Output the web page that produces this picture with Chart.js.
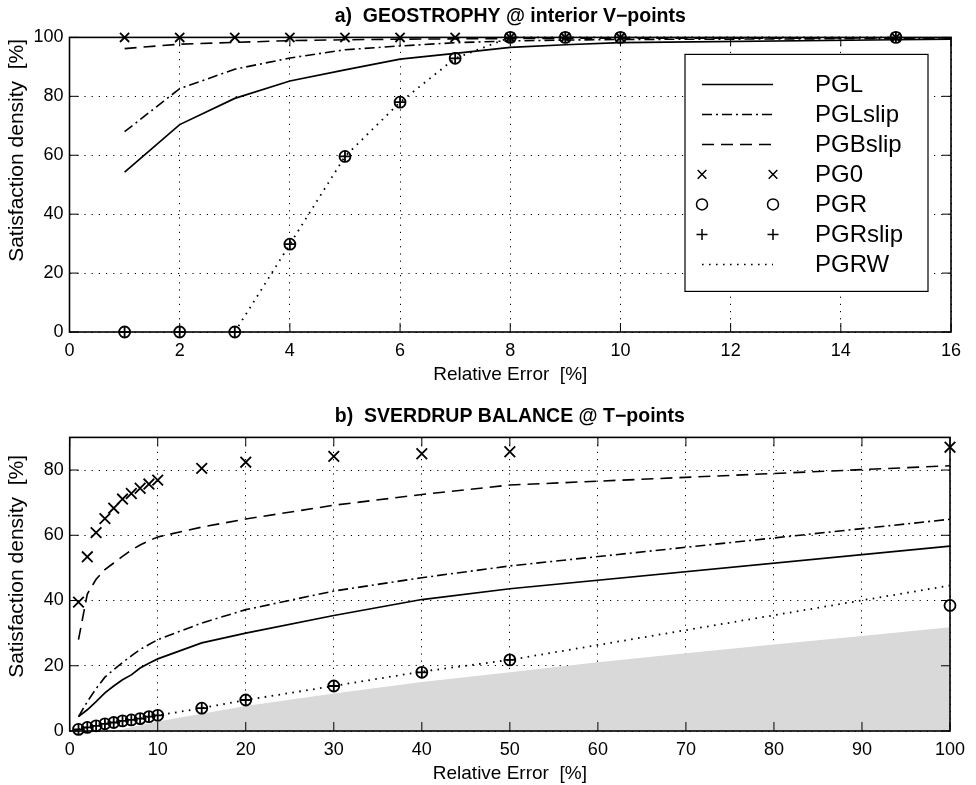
<!DOCTYPE html>
<html>
<head>
<meta charset="utf-8">
<script src="https://cdn.jsdelivr.net/npm/chart.js@4.4.0/dist/chart.umd.min.js"></script>
<style>
  html, body { margin: 0; padding: 0; background: #fff; }
  #wrap { position: relative; width: 976px; height: 785px; }
  canvas { position: absolute; left: 0; display: block; }
  #c1 { top: 0; }
  #c2 { top: 392px; }
</style>
</head>
<body>
<div id="wrap">
  <canvas id="c1" width="976" height="392"></canvas>
  <canvas id="c2" width="976" height="393"></canvas>
</div>
<script>
// ---------------- DATA: panel a) ----------------
const titleA = 'a)  GEOSTROPHY @ interior V\u2212points';
const xA = [1, 2, 3, 4, 5, 6, 7, 8, 9, 10, 15];
const xALine = [1, 2, 3, 4, 5, 6, 7, 8, 9, 10, 15, 16];
const aPGL      = [54.3, 70.4, 79.3, 85.2, 89.0, 92.6, 94.6, 96.6, 97.5, 98.2, 99.2, 99.4];
const aPGLslip  = [68.0, 82.6, 89.2, 93.0, 95.8, 97.1, 98.2, 98.8, 99.1, 99.3, 99.6, 99.7];
const aPGBslip  = [96.2, 97.7, 98.3, 98.9, 99.2, 99.4, 99.5, 99.6, 99.7, 99.7, 99.8, 99.8];
const aPG0      = [100, 100, 100, 100, 100, 100, 100, 100, 100, 100, 100];
const aPGR      = [0, 0, 0, 29.8, 59.6, 78.0, 92.9, 100, 100, 100, 100];
const aPGRslip  = [0, 0, 0, 29.8, 59.6, 78.0, 92.9, 100, 100, 100, 100];
const aPGRW     = [null, null, 0, 29.8, 59.6, 78.0, 92.9, 100, 100, 100, 100];
const xTicksA = [0, 2, 4, 6, 8, 10, 12, 14, 16];
const yTicksA = [0, 20, 40, 60, 80, 100];

// ---------------- DATA: panel b) ----------------
const titleB = 'b)  SVERDRUP BALANCE @ T\u2212points';
const xB = [1, 2, 3, 4, 5, 6, 7, 8, 9, 10, 15, 20, 30, 40, 50, 100];
const bPGL      = [4.4, 6.5, 9.0, 11.7, 13.8, 15.7, 17.2, 19.3, 20.8, 22.1, 27.0, 30.0, 35.4, 40.3, 43.6, 56.7];
const bPGLslip  = [4.4, 9.0, 13.0, 16.5, 18.8, 21.0, 23.0, 25.0, 26.5, 28.0, 33.1, 37.2, 42.9, 47.0, 50.6, 64.9];
const bPGBslip  = [28.0, 42.0, 46.5, 49.5, 51.5, 53.5, 55.5, 57.0, 58.3, 59.5, 62.5, 65.0, 69.2, 72.5, 75.4, 81.3];
const bPG0      = [39.5, 53.4, 60.8, 65.1, 68.3, 71.1, 72.8, 74.4, 75.7, 76.9, 80.5, 82.4, 84.2, 85.0, 85.6, 87.0];
const bPGR      = [0.5, 1.1, 1.6, 2.2, 2.6, 3.1, 3.4, 3.8, 4.4, 4.8, 7.0, 9.5, 13.8, 18.0, 21.8, 38.5];
const bPGRslip  = [0.5, 1.1, 1.6, 2.2, 2.6, 3.1, 3.4, 3.8, 4.4, 4.8, 7.0, 9.5, 13.8, 18.0, 21.8, null];
const bPGRW     = [0.5, 1.1, 1.6, 2.2, 2.6, 3.1, 3.4, 3.8, 4.4, 4.8, 7.0, 9.5, 13.8, 18.2, 21.8, 44.6];
const xShade = [1, 5, 10, 20, 30, 40, 50, 60, 70, 80, 90, 100];
const yShade = [0, 0, 2.9, 7.7, 11.5, 15.0, 18.0, 21.1, 23.8, 26.5, 29.1, 31.8];
const xTicksB = [0, 10, 20, 30, 40, 50, 60, 70, 80, 90, 100];
const yTicksB = [0, 20, 40, 60, 80];

const seriesNames = ['PGL', 'PGLslip', 'PGBslip', 'PG0', 'PGR', 'PGRslip', 'PGRW'];
const xTitle = 'Relative Error  [%]';
const yTitle = 'Satisfaction density  [%]';

// ---------------- STYLE ----------------
const FONT = '"Liberation Sans", Arial, Helvetica, sans-serif';
const DASH = { PGL: [], PGLslip: [10, 4, 2, 4], PGBslip: [12, 7], PGRW: [1.6, 5.4] };

function pts(xs, ys) {
  const out = [];
  xs.forEach((x, i) => { if (ys[i] !== null && ys[i] !== undefined) out.push({ x: x, y: ys[i] }); });
  return out;
}

function lineDS(label, xs, ys, dash, width) {
  return { label, data: pts(xs, ys), borderColor: '#000', borderWidth: width || 1.6,
    borderDash: dash, pointRadius: 0, fill: false, tension: 0, clip: false };
}
function markDS(label, xs, ys, style, r) {
  return { label, data: pts(xs, ys), showLine: false, pointStyle: style, pointRadius: r,
    pointBorderColor: '#000', pointBackgroundColor: 'rgba(0,0,0,0)', pointBorderWidth: 1.8, clip: false };
}

function drawMarker(ctx, style, x, y, r) {
  ctx.beginPath();
  if (style === 'circle') { ctx.arc(x, y, r, 0, Math.PI * 2); }
  else if (style === 'cross') { ctx.moveTo(x - r, y); ctx.lineTo(x + r, y); ctx.moveTo(x, y - r); ctx.lineTo(x, y + r); }
  else if (style === 'crossRot') { const d = r * 0.72; ctx.moveTo(x - d, y - d); ctx.lineTo(x + d, y + d); ctx.moveTo(x - d, y + d); ctx.lineTo(x + d, y - d); }
  ctx.stroke();
}

const framePlugin = {
  id: 'frame',
  afterDatasetsDraw(chart) {
    const { ctx, chartArea: a, scales } = chart;
    ctx.save();
    ctx.strokeStyle = '#000';
    ctx.setLineDash([]);
    ctx.lineWidth = 1;
    const L = 9;
    scales.x.ticks.forEach(t => {
      const px = scales.x.getPixelForValue(t.value);
      ctx.beginPath();
      ctx.moveTo(px, a.bottom); ctx.lineTo(px, a.bottom - L);
      ctx.moveTo(px, a.top); ctx.lineTo(px, a.top + L);
      ctx.stroke();
    });
    scales.y.ticks.forEach(t => {
      const py = scales.y.getPixelForValue(t.value);
      ctx.beginPath();
      ctx.moveTo(a.left, py); ctx.lineTo(a.left + L, py);
      ctx.moveTo(a.right, py); ctx.lineTo(a.right - L, py);
      ctx.stroke();
    });
    ctx.lineWidth = 1.6;
    ctx.strokeRect(a.left, a.top, a.right - a.left, a.bottom - a.top);
    ctx.restore();
  }
};

// y-axis title drawn as real canvas text at the reference position
const yTitlePlugin = {
  id: 'yTitleText',
  afterDraw(chart, args, opts) {
    const { ctx, chartArea: a } = chart;
    ctx.save();
    ctx.translate(17, a.top + opts.centerOffset);
    ctx.rotate(-Math.PI / 2);
    ctx.font = '21px ' + FONT;
    ctx.fillStyle = '#000';
    ctx.textAlign = 'center';
    ctx.textBaseline = 'middle';
    ctx.fillText(yTitle, 0, 0);
    ctx.restore();
  }
};

const legendPlugin = {
  id: 'boxLegend',
  afterDraw(chart) {
    const { ctx, chartArea: a } = chart;
    const bx = a.right - 266, by = a.top + 17, bw = 243, bh = 237;
    ctx.save();
    ctx.fillStyle = '#fff';
    ctx.fillRect(bx, by, bw, bh);
    ctx.strokeStyle = '#000';
    ctx.lineWidth = 1.2;
    ctx.setLineDash([]);
    ctx.strokeRect(bx, by, bw, bh);
    const styles = [
      { line: DASH.PGL }, { line: DASH.PGLslip }, { line: DASH.PGBslip },
      { mark: 'crossRot' }, { mark: 'circle' }, { mark: 'cross' }, { line: DASH.PGRW }
    ];
    const x1 = bx + 17, x2 = bx + 88, tx = bx + 130;
    ctx.font = '24px ' + FONT;
    ctx.textBaseline = 'middle';
    ctx.textAlign = 'left';
    seriesNames.forEach((name, i) => {
      const y = by + 30 + i * 30;
      const s = styles[i];
      ctx.strokeStyle = '#000';
      if (s.line) {
        ctx.lineWidth = 1.5;
        ctx.setLineDash(s.line);
        ctx.beginPath(); ctx.moveTo(x1, y); ctx.lineTo(x2, y); ctx.stroke();
        ctx.setLineDash([]);
      } else {
        ctx.lineWidth = 1.5;
        const r = s.mark === 'crossRot' ? 6 : 5.5;
        drawMarker(ctx, s.mark, x1, y, r);
        drawMarker(ctx, s.mark, x2, y, r);
      }
      ctx.fillStyle = '#000';
      ctx.fillText(name, tx, y + 1);
    });
    ctx.restore();
  }
};

function baseOptions(cfg) {
  return {
    responsive: false,
    animation: false,
    events: [],
    layout: { padding: { left: 0, right: cfg.padRight, top: 0, bottom: 0 } },
    plugins: {
      legend: { display: false },
      tooltip: { enabled: false },
      yTitleText: { centerOffset: cfg.yTitleCenter },
      title: {
        display: true, text: cfg.title, color: '#000', fullSize: false,
        font: { family: FONT, size: 19.5, weight: 'bold', lineHeight: 1.2 },
        padding: { top: cfg.titleTop, bottom: cfg.titleBottom }
      }
    },
    scales: {
      x: {
        type: 'linear', min: cfg.xMin, max: cfg.xMax,
        afterBuildTicks: s => { s.ticks = cfg.xTicks.map(v => ({ value: v })); },
        afterFit: s => { s.height = cfg.xHeight; },
        ticks: { color: '#000', font: { family: FONT, size: 18 }, padding: 8, maxRotation: 0, autoSkip: false },
        grid: { color: '#000', lineWidth: 1, drawTicks: false },
        border: { display: false, dash: [1.2, 6] },
        title: { display: true, text: xTitle, color: '#000', font: { family: FONT, size: 19 },
          padding: { top: 0, bottom: cfg.xTitlePad } }
      },
      y: {
        type: 'linear', min: cfg.yMin, max: cfg.yMax,
        afterBuildTicks: s => { s.ticks = cfg.yTicks.map(v => ({ value: v })); },
        afterFit: s => { s.width = cfg.yWidth; },
        ticks: { color: '#000', font: { family: FONT, size: 18 }, padding: 6, autoSkip: false },
        grid: { color: '#000', lineWidth: 1, drawTicks: false },
        border: { display: false, dash: [1.2, 6] },
        title: { display: false, text: yTitle }
      }
    }
  };
}

// ---------------- CHART a) ----------------
new Chart(document.getElementById('c1'), {
  type: 'line',
  data: {
    datasets: [
      lineDS('PGL', xALine, aPGL, DASH.PGL, 1.7),
      lineDS('PGLslip', xALine, aPGLslip, DASH.PGLslip),
      lineDS('PGBslip', xALine, aPGBslip, DASH.PGBslip),
      markDS('PG0', xA, aPG0, 'crossRot', 6.5),
      markDS('PGR', xA, aPGR, 'circle', 5.5),
      markDS('PGRslip', xA, aPGRslip, 'cross', 5.5),
      lineDS('PGRW', xA, aPGRW, DASH.PGRW, 1.8)
    ]
  },
  options: baseOptions({
    title: titleA, titleTop: 5, titleBottom: 9, padRight: 25,
    xMin: 0, xMax: 16, yMin: 0, yMax: 100, xTicks: xTicksA, yTicks: yTicksA,
    xHeight: 60, yWidth: 69.5, xTitlePad: 6, yTitleCenter: 113
  }),
  plugins: [framePlugin, legendPlugin, yTitlePlugin]
});

// ---------------- CHART b) ----------------
const shadeDS = {
  label: 'shade', data: pts(xShade, yShade), borderWidth: 0, borderColor: 'rgba(0,0,0,0)',
  backgroundColor: '#d9d9d9', fill: 'origin', pointRadius: 0, tension: 0, order: 10
};
new Chart(document.getElementById('c2'), {
  type: 'line',
  data: {
    datasets: [
      lineDS('PGL', xB, bPGL, DASH.PGL, 1.7),
      lineDS('PGLslip', xB, bPGLslip, DASH.PGLslip),
      lineDS('PGBslip', xB, bPGBslip, DASH.PGBslip),
      markDS('PG0', xB, bPG0, 'crossRot', 7.5),
      markDS('PGR', xB, bPGR, 'circle', 5.5),
      markDS('PGRslip', xB, bPGRslip, 'cross', 5.5),
      lineDS('PGRW', xB, bPGRW, DASH.PGRW, 1.8),
      shadeDS
    ]
  },
  options: baseOptions({
    title: titleB, titleTop: 13, titleBottom: 9, padRight: 26,
    xMin: 0, xMax: 100, yMin: 0, yMax: 90, xTicks: xTicksB, yTicks: yTicksB,
    xHeight: 54, yWidth: 69.7, xTitlePad: 0, yTitleCenter: 129
  }),
  plugins: [framePlugin, yTitlePlugin]
});
</script>
</body>
</html>
